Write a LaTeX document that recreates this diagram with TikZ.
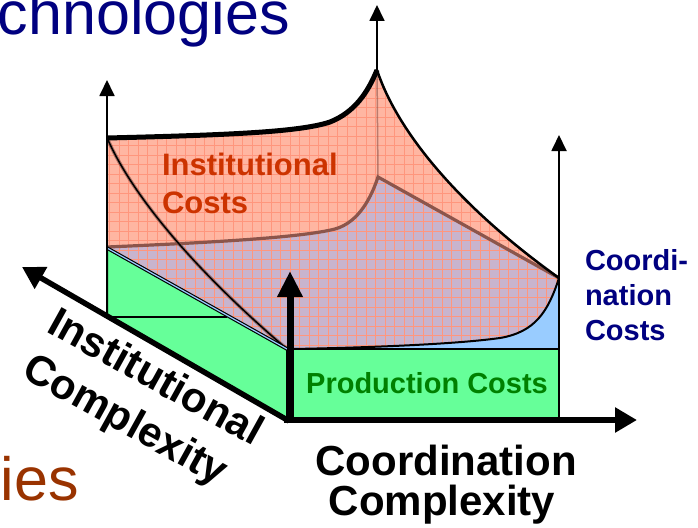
\documentclass[tikz,border=0pt]{standalone}
\usepackage{fontspec}
\setmainfont{Liberation Sans}
\usetikzlibrary{arrows.meta}
\definecolor{navyc}{RGB}{0,0,128}
\definecolor{instc}{RGB}{204,51,0}
\definecolor{prodc}{RGB}{0,128,0}
\definecolor{greenf}{RGB}{102,255,153}
\definecolor{bluef}{RGB}{153,204,255}
\definecolor{pinkf}{RGB}{255,182,162}
\definecolor{purpf}{RGB}{200,180,205}
\definecolor{gridc}{RGB}{255,150,125}
\definecolor{brownl}{RGB}{140,85,75}
\definecolor{iesc}{RGB}{153,51,0}
\tikzset{
  thinarrow/.style={line width=1.8pt,-{Triangle[length=16pt,width=15pt]}},
  thickarrow/.style={line width=5.5pt,-{Triangle[length=22pt,width=24pt]}},
  outline/.style={draw=black,line width=2pt},
  lbl/.style={inner sep=0pt,outer sep=0pt},
}
\begin{document}
\begin{tikzpicture}[x=1pt,y=-1pt]
\useasboundingbox (0,0) rectangle (698,527);
\clip (0,0) rectangle (698,527);

% named points
\coordinate (gA) at (107,248);
\coordinate (gB) at (107,317);
\coordinate (gC) at (287,420);
\coordinate (gD) at (287,349);
\coordinate (gE) at (227,317);
\coordinate (rA) at (292,349);
\coordinate (rB) at (559,349);
\coordinate (rC) at (559,420);
\coordinate (rD) at (292,420);
\coordinate (T0) at (107,138);
\coordinate (P) at (377,70);
\coordinate (R) at (559,278);
\coordinate (M) at (378,177);
\coordinate (L0) at (107,247);

% pink region
\fill[pinkf] (T0) .. controls (230,135) and (300,132) .. (330,122)
  .. controls (355,112) and (368,92) .. (P)
  .. controls (395,125) and (450,200) .. (R)
  -- (M) .. controls (372,195) and (360,222) .. (335,229)
  .. controls (300,238) and (200,243) .. (L0) -- cycle;
% purple region
\fill[purpf] (L0) .. controls (200,243) and (300,238) .. (335,229)
  .. controls (360,222) and (372,195) .. (M) -- (R)
  .. controls (548,312) and (535,332) .. (500,338)
  .. controls (450,345) and (350,348) .. (rA) -- (gD) -- (gA) -- cycle;
% blue region
\fill[bluef] (R) .. controls (548,312) and (535,332) .. (500,338)
  .. controls (450,345) and (350,348) .. (rA) -- (rB) -- cycle;
% grid
\begin{scope}
\clip (T0) .. controls (230,135) and (300,132) .. (330,122)
  .. controls (355,112) and (368,92) .. (P)
  .. controls (395,125) and (450,200) .. (R)
  .. controls (548,312) and (535,332) .. (500,338)
  .. controls (450,345) and (350,348) .. (rA) -- (gD) -- (gA) -- cycle;
\foreach \gx in {100,109.5,...,570} \draw[gridc,line width=0.8pt] (\gx,60) -- (\gx,360);
\foreach \gy in {60,69.5,...,360} \draw[gridc,line width=0.8pt] (100,\gy) -- (570,\gy);
\end{scope}

% green blocks
\filldraw[fill=greenf,outline] (gA) -- (gB) -- (gC) -- (gD) -- cycle;
\draw[line width=2pt] (gB) -- (gE);
\filldraw[fill=greenf,outline] (rA) rectangle (rC);

% inner lines
\draw[brownl,line width=1.5pt,opacity=0.6] (P) -- (M);
\draw[brownl,line width=3.2pt] (L0) .. controls (200,243) and (300,238) .. (335,229)
  .. controls (360,222) and (372,195) .. (M) -- (R);
\draw[brownl,line width=3.5pt,opacity=0.7] (108,140) .. controls (135,200) and (200,275) .. (gD);
\draw[black,line width=1.5pt] (108,140) .. controls (135,200) and (200,275) .. (gD);
\draw[black,line width=3.5pt] (gA) -- (gD);
\draw[bluef,line width=1.2pt] (gA) -- (gD);
\draw[black,line width=2pt] (R) .. controls (548,312) and (535,332) .. (500,338)
  .. controls (450,345) and (350,348) .. (rA);

% outer curves
\draw[black,line width=5pt,line join=round] (T0) .. controls (230,135) and (300,132) .. (330,122)
  .. controls (355,112) and (368,92) .. (P);
\draw[black,line width=2.5pt] (P) .. controls (395,125) and (450,200) .. (R);

% arrows
\coordinate (tipL) at (107,80);
\coordinate (tipT) at (377,5);
\coordinate (tipR) at (559,135);
\coordinate (vB) at (290,422);
\coordinate (tipV) at (290,271);
\coordinate (hB) at (284,420);
\coordinate (tipH) at (637,420);
\coordinate (iB) at (289,421);
\coordinate (tipI) at (22,267);
\draw[thinarrow] (gB) -- (tipL);
\draw[thinarrow] (P) -- (tipT);
\draw[thinarrow] (rB) -- (tipR);
\draw[thickarrow] (iB) -- (tipI);
\draw[thickarrow] (hB) -- (tipH);
\draw[line width=7pt,-{Triangle[length=26pt,width=24pt]}] (vB) -- (tipV);

% texts
\node[lbl,anchor=base west,text=navyc,font=\fontsize{61}{72}\selectfont] (tech) at (-2,35) {chnologies};
\node[lbl,anchor=base west,text=iesc,font=\fontsize{61}{72}\selectfont] (ies) at (1,500) {ies};
\node[lbl,anchor=base west,text=instc,font=\bfseries\fontsize{31}{38}\selectfont] (ic1) at (162,175) {Institutional};
\node[lbl,anchor=base west,text=instc,font=\bfseries\fontsize{31}{38}\selectfont] (ic2) at (162,213) {Costs};
\node[lbl,anchor=base,text=prodc,font=\bfseries\fontsize{29}{35}\selectfont] (pc) at (427,393) {Production Costs};
\node[lbl,anchor=base west,text=navyc,font=\bfseries\fontsize{29}{35}\selectfont] (cc1) at (585,270) {Coordi-};
\node[lbl,anchor=base west,text=navyc,font=\bfseries\fontsize{29}{35}\selectfont] (cc2) at (585,305) {nation};
\node[lbl,anchor=base west,text=navyc,font=\bfseries\fontsize{29}{35}\selectfont] (cc3) at (585,340) {Costs};
\node[lbl,anchor=base,font=\bfseries\fontsize{42}{40}\selectfont] (cx1) at (446,475) {Coordination};
\node[lbl,anchor=base,font=\bfseries\fontsize{42}{40}\selectfont] (cx2) at (442,515) {Complexity};
\node[lbl,align=left,rotate=-29,font=\bfseries\fontsize{42}{52}\selectfont] (ix) at (142,402) {Institutional\\Complexity};
\end{tikzpicture}
\end{document}
